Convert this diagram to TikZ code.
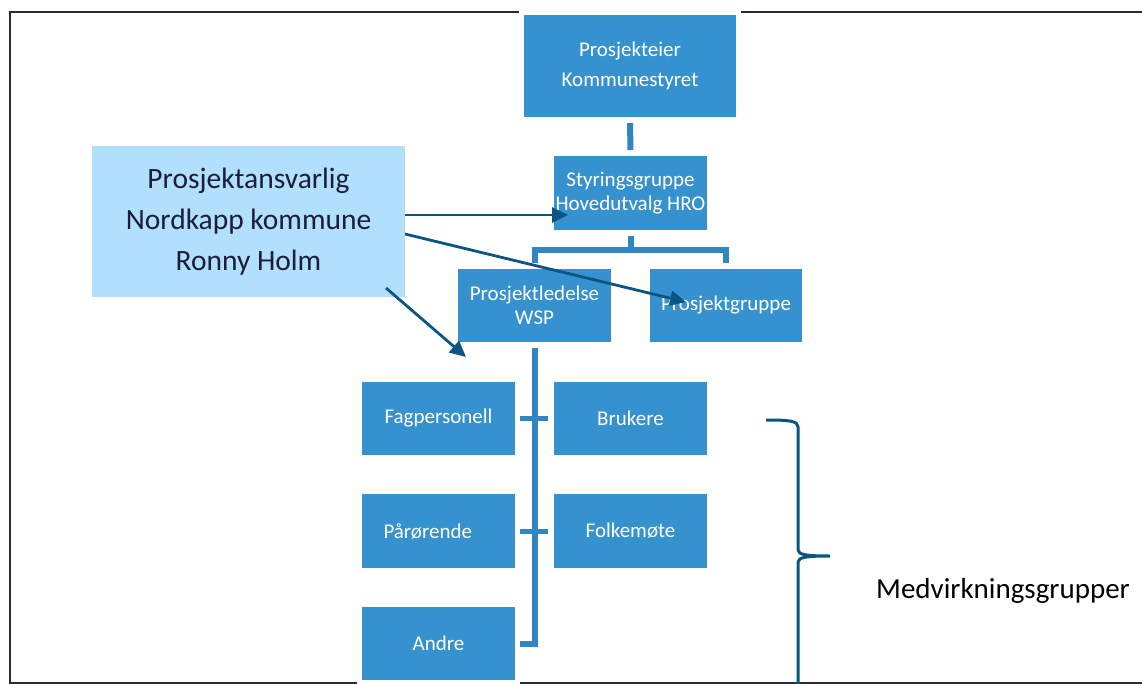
\documentclass[tikz,border=0pt]{standalone}
\usepackage{fontspec}
\setmainfont{Carlito}
\usetikzlibrary{arrows.meta}
\definecolor{boxblue}{HTML}{3592CE}
\definecolor{connblue}{HTML}{2F86C2}
\definecolor{lightblue}{HTML}{B0E0FC}
\definecolor{arrowcol}{HTML}{0B5583}
\definecolor{textdark}{HTML}{1C1C3C}
\definecolor{framecol}{HTML}{2A2A3A}
\begin{document}
\begin{tikzpicture}[x=1pt,y=-1pt,
  box/.style={fill=boxblue, text=white, inner sep=0pt, outer sep=0pt, align=center,
    minimum width=153pt, minimum height=73pt,
    font=\fontsize{21}{24}\selectfont, preaction={draw=white,line width=10pt}},
  conn/.style={draw=connblue, line width=6pt, line join=miter},
  tickline/.style={draw=connblue, line width=5pt},
  arr/.style={draw=arrowcol, line width=2.8pt, -{Triangle[length=16pt,width=15pt]}},
  frameline/.style={draw=framecol, line width=1.3pt},
  bracestyle/.style={draw=arrowcol, line width=3pt}]
\useasboundingbox (0,0) rectangle (1142,684);
% frame
\draw[frameline] (1142,12) -- (10,12) -- (10,683) -- (1142,683);
% boxes
\node[box, minimum width=212pt, minimum height=102pt, font=\fontsize{21}{30}\selectfont] (pe) at (630,66) {Prosjekteier\\Kommunestyret};
\node[box, minimum height=74pt] (sg) at (630.5,193) {Styringsgruppe\\Hovedutvalg HRO};
\node[box] (pl) at (534.5,305.5) {Prosjektledelse\\WSP};
\node[box, minimum width=152pt] (pg) at (726,305.5) {Prosjektgruppe};
\node[box] (fp) at (438.5,418.5) {Fagpersonell};
\node[box] (br) at (630.5,418.5) {Brukere};
\node[box, minimum height=74pt, align=left, text width=110pt] (pr) at (438.5,531) {Pårørende};
\node[box, minimum height=74pt] (fm) at (630.5,531) {Folkemøte};
\node[box] (an) at (438.5,643.5) {Andre};
\node[fill=lightblue, inner sep=0pt, outer sep=0pt, minimum width=313pt, minimum height=151pt,
  text=textdark, align=center, font=\fontsize{29.5}{41}\selectfont] (pa) at (248.5,221.5)
  {Prosjektansvarlig\\Nordkapp kommune\\Ronny Holm};
\node[anchor=base west, inner sep=0pt, text=black, font=\fontsize{29}{34}\selectfont] (mv) at (876,598) {Medvirkningsgrupper};
% tree connectors
\draw[conn, shorten <=6pt, shorten >=6pt] (pe.south) -- (sg.north);
\draw[conn] ([yshift=-6pt]sg.south) -- ([yshift=-20pt]sg.south);
\draw[conn] ([yshift=6pt]pl.north) |- ([yshift=-20pt]sg.south) -| ([yshift=6pt]pg.north);
\draw[conn] ([yshift=-6pt]pl.south) |- ([xshift=5pt]an.east);
\draw[tickline] ([xshift=5pt]fp.east) -- ([xshift=-6pt]br.west);
\draw[tickline] ([xshift=5pt]pr.east) -- ([xshift=-6pt]fm.west);
% arrows
\coordinate (t1) at (568,215);
\coordinate (s2) at (405,234);
\coordinate (t2) at (686,302);
\coordinate (s3) at (386,288);
\coordinate (t3) at (466,357);
\draw[arr] (pa.east |- t1) -- (t1);
\draw[arr] (s2) -- (t2);
\draw[arr] (s3) -- (t3);
% brace
\draw[bracestyle] (766,420) .. controls (790,420) and (798,421) .. (798,427) -- (798,550)
  .. controls (798,555) and (808,556) .. (830,556)
  .. controls (808,556) and (798,557) .. (798,562) -- (798,684);
\end{tikzpicture}
\end{document}
